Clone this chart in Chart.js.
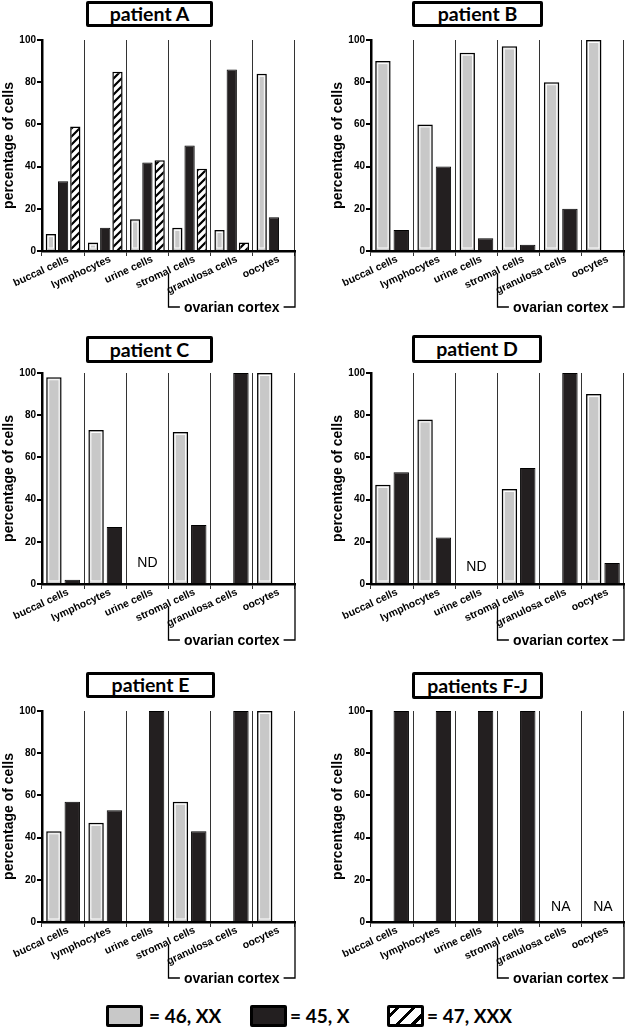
<!DOCTYPE html>
<html><head><meta charset="utf-8">
<script src="https://cdn.jsdelivr.net/npm/chart.js@4.4.1/dist/chart.umd.min.js"></script>
<style>
body{margin:0;background:#fff;width:625px;height:1028px;position:relative;overflow:hidden}
canvas{position:absolute}
.ttl{position:absolute;box-sizing:border-box;border:3px solid #000;border-radius:2px;font:700 19.5px Lato, sans-serif;display:flex;align-items:center;justify-content:center;background:#fff;color:#000;line-height:1}
.sw{position:absolute;box-sizing:border-box;border:3px solid #000;border-radius:2px;top:1005px;width:37px;height:22px}
.lt{position:absolute;top:1003px;font:700 19px Lato, sans-serif;color:#000;line-height:26px;white-space:nowrap}
</style></head>
<body>
<div class="ttl" style="left:86px;top:1px;width:127px;height:26px">patient A</div>
<div class="ttl" style="left:412px;top:1px;width:131px;height:26px">patient B</div>
<div class="ttl" style="left:86px;top:336px;width:127px;height:27px">patient C</div>
<div class="ttl" style="left:412px;top:335px;width:130px;height:28px">patient D</div>
<div class="ttl" style="left:86px;top:672px;width:129px;height:26px">patient E</div>
<div class="ttl" style="left:412px;top:672px;width:131px;height:27px">patients F-J</div>

<canvas id="cA" width="300" height="320" style="left:0;top:0"></canvas>
<canvas id="cB" width="300" height="320" style="left:329px;top:0"></canvas>
<canvas id="cC" width="300" height="320" style="left:0;top:333px"></canvas>
<canvas id="cD" width="300" height="320" style="left:329px;top:333px"></canvas>
<canvas id="cE" width="300" height="320" style="left:0;top:671px"></canvas>
<canvas id="cF" width="300" height="320" style="left:329px;top:671px"></canvas>

<div class="sw" style="left:106px;background:#c8c8c8"></div>
<div class="lt" style="left:149px">= 46, XX</div>
<div class="sw" style="left:250px;background:#231f20"></div>
<div class="lt" style="left:290px">= 45, X</div>
<div class="sw" style="left:387px;background:repeating-linear-gradient(135deg,#fff 0px,#fff 4px,#000 4px,#000 7px,#fff 7px,#fff 11px)"></div>
<div class="lt" style="left:427px">= 47, XXX</div>

<script>
const categories = ['buccal cells','lymphocytes','urine cells','stromal cells','granulosa cells','oocytes'];
const yTicks = [0,20,40,60,80,100];
const seriesNames = ['46, XX','45, X','47, XXX'];

const xxA  = [8, 4, 15, 11, 10, 84];
const xA   = [33, 11, 42, 50, 86, 16];
const xxxA = [59, 85, 43, 39, 4, null];

const xxB = [90, 60, 94, 97, 80, 100];
const xB  = [10, 40, 6, 3, 20, null];

const xxC = [98, 73, null, 72, null, 100];
const xC  = [2, 27, null, 28, 100, null];

const xxD = [47, 78, null, 45, null, 90];
const xD  = [53, 22, null, 55, 100, 10];

const xxE = [43, 47, null, 57, null, 100];
const xE  = [57, 53, 100, 43, 100, null];

const xxF = [null, null, null, null, null, null];
const xF  = [100, 100, 100, 100, null, null];

const notesC = ['', '', 'ND', '', '', ''];
const notesD = ['', '', 'ND', '', '', ''];
const notesF = ['', '', '', '', 'NA', 'NA'];

// first category of the "ovarian cortex" bracket
const cortexStart = 3;

const GRAY = '#c8c8c8', BLACK = '#231f20';

function hatch(){
  const c = document.createElement('canvas'); c.width = 8; c.height = 8;
  const g = c.getContext('2d');
  g.fillStyle = '#fff'; g.fillRect(0,0,8,8);
  g.strokeStyle = '#000'; g.lineWidth = 2.2; g.lineCap='square';
  g.beginPath();
  g.moveTo(0,8); g.lineTo(8,0);
  g.moveTo(-2,2); g.lineTo(2,-2);
  g.moveTo(6,10); g.lineTo(10,6);
  g.stroke();
  return c.getContext('2d').createPattern(c,'repeat');
}
const HATCH = hatch();

const annot = {
  id:'annot',
  afterDatasetsDraw(chart){
    // white inner outline on the light bars
    const ctx = chart.ctx;
    ctx.save();
    ctx.strokeStyle = '#fff'; ctx.lineWidth = 1;
    chart.data.datasets.forEach((d, di)=>{
      if (d.backgroundColor !== GRAY) return;
      chart.getDatasetMeta(di).data.forEach((el, i)=>{
        if (d.data[i] == null) return;
        const p = el.getProps(['x','y','base','width'], true);
        const l = p.x - p.width/2 + 2, r = p.x + p.width/2 - 2;
        const t = p.y + 2, b = p.base - 1.5;
        if (r > l && b > t) ctx.strokeRect(l + 0.5, t + 0.5, r - l - 1, b - t - 1);
      });
    });
    ctx.restore();
  },
  afterDraw(chart){
    const o = chart.options.plugins.annot;
    const ctx = chart.ctx, xs = chart.scales.x, ys = chart.scales.y, a = chart.chartArea;
    ctx.save();
    ctx.fillStyle = '#000';
    ctx.font = '14px "Liberation Sans", Arial, sans-serif';
    ctx.textAlign = 'center'; ctx.textBaseline = 'middle';
    (o.notes || []).forEach((t,i)=>{ if (t) ctx.fillText(t, xs.getPixelForValue(i), ys.getPixelForValue(o.noteLevel)); });
    // ovarian cortex bracket
    const b = (xs.getPixelForValue(cortexStart - 1) + xs.getPixelForValue(cortexStart)) / 2;
    const r = a.right;
    const yb = a.bottom + 56;
    ctx.font = 'bold 14px "Liberation Sans", Arial, sans-serif';
    const txt = 'ovarian cortex';
    const tw = ctx.measureText(txt).width;
    const tx = (b + r) / 2;
    ctx.strokeStyle = '#000'; ctx.lineWidth = 1.3;
    ctx.beginPath();
    ctx.moveTo(b, a.bottom + 23); ctx.lineTo(b, yb); ctx.lineTo(tx - tw/2 - 4, yb);
    ctx.moveTo(tx + tw/2 + 4, yb); ctx.lineTo(r, yb); ctx.lineTo(r, a.bottom);
    ctx.stroke();
    ctx.textBaseline = 'alphabetic';
    ctx.fillText(txt, tx, yb + 5);
    ctx.restore();
  }
};

function ds(label, data, color){
  return {label, data, backgroundColor: color, borderColor:'#000', borderWidth: color===BLACK?1:1.5, borderSkipped:'start'};
}

function makeChart(id, datasets, notes, noteLevel){
  new Chart(document.getElementById(id), {
    type:'bar',
    data:{labels:categories, datasets},
    options:{
      responsive:false, animation:false,
      layout:{padding:{top:40,right:5,left:0,bottom:0}},
      datasets:{bar:{categoryPercentage:0.87, barPercentage:0.84}},
      plugins:{legend:{display:false}, tooltip:{enabled:false}, annot:{notes, noteLevel}},
      scales:{
        x:{
          grid:{offset:true, color:'#333', lineWidth:1, tickLength:5, drawTicks:true},
          border:{color:'#000', width:2.5},
          ticks:{autoSkip:false, minRotation:25, maxRotation:25, padding:-3, labelOffset:5, color:'#000',
                 font:{family:'"Liberation Sans", Arial, sans-serif', weight:'bold', size:10.5}},
          afterFit(s){ s.height = 69; }
        },
        y:{
          min:0, max:100,
          afterBuildTicks(s){ s.ticks = yTicks.map(v=>({value:v})); },
          grid:{drawOnChartArea:false, color:'#000', lineWidth:2, tickLength:5},
          border:{color:'#000', width:2.5},
          ticks:{padding:1, color:'#000', font:{family:'"Liberation Sans", Arial, sans-serif', weight:'bold', size:10}},
          title:{display:true, text:'percentage of cells', color:'#000', padding:{top:1,bottom:0},
                 font:{family:'"Liberation Sans", Arial, sans-serif', weight:'bold', size:14}},
          afterFit(s){ s.width = 42; }
        }
      }
    },
    plugins:[annot]
  });
}

makeChart('cA', [ds(seriesNames[0], xxA, GRAY), ds(seriesNames[1], xA, BLACK), ds(seriesNames[2], xxxA, HATCH)], [], 0);
makeChart('cB', [ds(seriesNames[0], xxB, GRAY), ds(seriesNames[1], xB, BLACK)], [], 0);
makeChart('cC', [ds(seriesNames[0], xxC, GRAY), ds(seriesNames[1], xC, BLACK)], notesC, 10);
makeChart('cD', [ds(seriesNames[0], xxD, GRAY), ds(seriesNames[1], xD, BLACK)], notesD, 8);
makeChart('cE', [ds(seriesNames[0], xxE, GRAY), ds(seriesNames[1], xE, BLACK)], [], 0);
makeChart('cF', [ds(seriesNames[0], xxF, GRAY), ds(seriesNames[1], xF, BLACK)], notesF, 7);
</script>
</body></html>
